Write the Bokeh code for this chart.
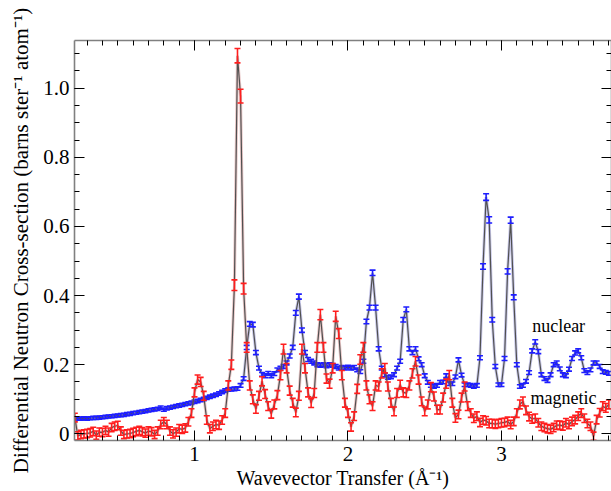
from bokeh.plotting import figure
from bokeh.models import (Range1d, LinearAxis, SingleIntervalTicker, ColumnDataSource, Label,
                          PrintfTickFormatter, CustomJSTickFormatter)
from bokeh.embed import file_html
from bokeh.resources import INLINE

# Wavevector grid start/step (Å^-1)
q_start = 0.22
q_step = 0.02

# nuclear cross-section, one value per grid point (0.22 ... 3.70)
nuclear = [
    0.045, 0.044, 0.044, 0.045, 0.044, 0.045, 0.046, 0.046, 0.047, 0.048,
    0.049, 0.050, 0.051, 0.052, 0.053, 0.054, 0.055, 0.057, 0.058, 0.060,
    0.061, 0.063, 0.064, 0.066, 0.068, 0.069, 0.071, 0.072, 0.076, 0.070,
    0.074, 0.076, 0.078, 0.080, 0.082, 0.084, 0.086, 0.088, 0.090, 0.093,
    0.095, 0.098, 0.101, 0.104, 0.107, 0.110, 0.113, 0.117, 0.121, 0.125,
    0.128, 0.129, 0.130, 0.131, 0.140, 0.160, 0.250, 0.318, 0.316, 0.235,
    0.190, 0.172, 0.168, 0.175, 0.168, 0.174, 0.185, 0.190, 0.195, 0.205,
    0.225, 0.250, 0.350, 0.397, 0.300, 0.235, 0.215, 0.210, 0.205, 0.200,
    0.198, 0.200, 0.197, 0.200, 0.198, 0.195, 0.190, 0.192, 0.190, 0.193,
    0.190, 0.192, 0.185, 0.180, 0.210, 0.325, 0.365, 0.466, 0.365, 0.246,
    0.190, 0.170, 0.163, 0.165, 0.171, 0.190, 0.210, 0.330, 0.360, 0.246,
    0.235, 0.246, 0.217, 0.200, 0.168, 0.149, 0.140, 0.137, 0.140, 0.149,
    0.150, 0.168, 0.145, 0.145, 0.165, 0.214, 0.170, 0.142, 0.142, 0.140,
    0.137, 0.140, 0.220, 0.484, 0.685, 0.619, 0.330, 0.195, 0.142, 0.142,
    0.218, 0.470, 0.618, 0.395, 0.200, 0.137, 0.140, 0.152, 0.177, 0.240,
    0.266, 0.238, 0.171, 0.160, 0.154, 0.171, 0.200, 0.205, 0.188, 0.171,
    0.168, 0.187, 0.218, 0.234, 0.240, 0.220, 0.183, 0.177, 0.185, 0.205,
    0.205, 0.195, 0.180, 0.178, 0.175,
]

# magnetic cross-section, same grid
magnetic = [
    0.047, -0.006, -0.002, 0.000, 0.001, 0.003, 0.007, -0.004, 0.005, 0.004,
    0.010, 0.005, 0.018, 0.022, 0.024, 0.008, -0.002, 0.000, 0.001, 0.004,
    0.007, 0.010, 0.006, 0.002, 0.008, 0.006, -0.002, 0.008, 0.027, 0.035,
    0.027, 0.008, 0.000, 0.005, 0.015, 0.013, 0.017, 0.035, 0.060, 0.120,
    0.157, 0.150, 0.110, 0.040, 0.015, 0.022, 0.027, 0.025, 0.040, 0.060,
    0.140, 0.200, 0.430, 1.094, 0.977, 0.420, 0.250, 0.140, 0.100, 0.072,
    0.110, 0.152, 0.115, 0.080, 0.058, 0.085, 0.112, 0.170, 0.245, 0.190,
    0.125, 0.090, 0.062, 0.110, 0.245, 0.190, 0.120, 0.089, 0.118, 0.250,
    0.345, 0.250, 0.160, 0.145, 0.190, 0.340, 0.290, 0.170, 0.090, 0.060,
    0.020, 0.051, 0.130, 0.215, 0.250, 0.140, 0.100, 0.080, 0.140, 0.137,
    0.175, 0.190, 0.137, 0.090, 0.065, 0.118, 0.142, 0.120, 0.118, 0.140,
    0.175, 0.210, 0.157, 0.094, 0.065, 0.085, 0.135, 0.108, 0.070, 0.070,
    0.105, 0.145, 0.170, 0.090, 0.046, 0.056, 0.105, 0.137, 0.080, 0.060,
    0.045, 0.051, 0.033, 0.040, 0.038, 0.030, 0.030, 0.028, 0.030, 0.032,
    0.033, 0.036, 0.027, 0.036, 0.060, 0.085, 0.094, 0.068, 0.050, 0.043,
    0.045, 0.032, 0.022, 0.018, 0.015, 0.013, 0.018, 0.025, 0.025, 0.023,
    0.032, 0.027, 0.036, 0.041, 0.051, 0.060, 0.045, 0.030, 0.022, -0.007,
    0.041, 0.061, 0.080, 0.075, 0.085,
]

# error bar size: base + fraction of value
nuclear_err_base, nuclear_err_frac = 0.004, 0.008
magnetic_err_base, magnetic_err_frac = 0.012, 0.008

x_label = "Wavevector Transfer (Å⁻¹)"
y_label = "Differential Neutron Cross-section (barns ster⁻¹ atom⁻¹)"
series_labels = ["nuclear", "magnetic"]

q = [round(q_start + q_step * i, 2) for i in range(len(nuclear))]

FONT = "Liberation Serif"

p = figure(width=611, height=491, output_backend="svg", toolbar_location=None,
           x_range=Range1d(0.218, 3.717), y_range=Range1d(-0.0193, 1.138),
           min_border_left=74, min_border_right=0, min_border_top=40, min_border_bottom=50)
p.background_fill_color = "white"
p.border_fill_color = "white"
p.outline_line_color = None
p.grid.visible = False

def style_axis(ax, labels=True):
    ax.axis_line_color = "#808080"
    ax.axis_line_width = 1.6
    ax.major_tick_line_color = "black"
    ax.minor_tick_line_color = "black"
    ax.major_tick_in = 10
    ax.major_tick_out = 0
    ax.minor_tick_in = 5
    ax.minor_tick_out = 0
    ax.major_label_text_font = FONT
    ax.major_label_text_font_size = "21px"
    ax.major_label_text_font_style = "normal"
    ax.major_label_text_color = "black"
    ax.axis_label_text_font = FONT
    ax.axis_label_text_font_size = "20px"
    ax.axis_label_text_font_style = "normal"
    ax.axis_label_text_color = "black"
    if not labels:
        ax.formatter = CustomJSTickFormatter(code="return ''")
        ax.major_label_standoff = 0
        ax.axis_label = None

xaxis = p.xaxis[0]
yaxis = p.yaxis[0]
xaxis.ticker = SingleIntervalTicker(interval=1, num_minor_ticks=10)
yaxis.ticker = SingleIntervalTicker(interval=0.2, num_minor_ticks=4)
style_axis(xaxis)
style_axis(yaxis)
xaxis.axis_label = x_label
xaxis.major_label_standoff = 6
xaxis.axis_label_standoff = 3
yaxis.axis_label = y_label
yaxis.axis_label_text_font_size = "21px"
yaxis.major_label_standoff = 5
yaxis.axis_label_standoff = 7
yaxis.formatter = PrintfTickFormatter(format="%.1f")
yaxis.major_label_overrides = {0: "0"}

top = LinearAxis(ticker=SingleIntervalTicker(interval=1, num_minor_ticks=10))
style_axis(top, labels=False)
p.add_layout(top, "above")
right = LinearAxis(ticker=SingleIntervalTicker(interval=0.2, num_minor_ticks=4))
style_axis(right, labels=False)
p.add_layout(right, "right")

def draw(vals, base, frac, color, halo):
    err = [base + frac * abs(v) for v in vals]
    src = ColumnDataSource(dict(x=q, y=vals,
                                lo=[v - e for v, e in zip(vals, err)],
                                hi=[v + e for v, e in zip(vals, err)]))
    p.line("x", "y", source=src, line_color=halo, line_width=3, line_alpha=0.35)
    p.line("x", "y", source=src, line_color="#505050", line_width=1.2)
    p.segment(x0="x", y0="lo", x1="x", y1="hi", source=src, line_color=color, line_width=1.6)
    p.scatter("x", "hi", source=src, marker="dash", size=6, line_color=color, line_width=1.6)
    p.scatter("x", "lo", source=src, marker="dash", size=6, line_color=color, line_width=1.6)

draw(nuclear, nuclear_err_base, nuclear_err_frac, "#1e1eff", "#6060c0")
draw(magnetic, magnetic_err_base, magnetic_err_frac, "#ff1e1e", "#c06060")

p.add_layout(Label(x=3.20, y=0.313, text=series_labels[0], text_font=FONT,
                   text_font_size="18px", text_color="black", text_baseline="middle"))
p.add_layout(Label(x=3.19, y=0.105, text=series_labels[1], text_font=FONT,
                   text_font_size="18px", text_color="black", text_baseline="middle"))

open("out.html", "w").write(file_html(p, INLINE))
